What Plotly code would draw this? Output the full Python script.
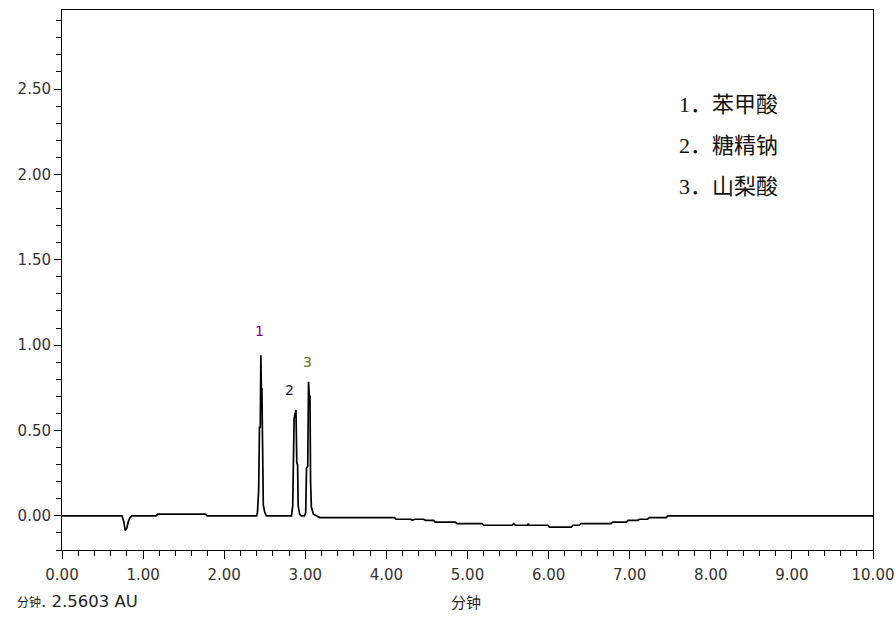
import plotly.graph_objects as go

# Chromatogram data (time in minutes, absorbance in AU)
time_min = [0.00, 0.74, 0.76, 0.78, 0.80, 0.82, 0.84, 0.86, 1.16, 1.18, 1.77, 1.79,
            2.40, 2.41, 2.425, 2.435, 2.445, 2.452, 2.458, 2.465, 2.47, 2.478, 2.482, 2.50, 2.52,
            2.83, 2.845, 2.855, 2.862, 2.875, 2.885, 2.895, 2.905, 2.912, 2.93, 2.95,
            2.99, 3.005, 3.015, 3.03, 3.04, 3.05, 3.058, 3.065, 3.075, 3.10, 3.15, 3.18,
            4.10, 4.12, 4.30, 4.32, 4.35, 4.46, 4.48, 4.58, 4.60, 4.85, 4.87, 5.18, 5.20,
            5.55, 5.57, 5.59, 5.74, 5.75, 5.76, 5.99, 6.01, 6.28, 6.30, 6.38, 6.40,
            6.77, 6.79, 6.96, 6.98, 7.10, 7.12, 7.22, 7.24, 7.45, 7.47, 10.00]
absorbance = [0.00, 0.00, -0.03, -0.086, -0.07, -0.03, -0.01, 0.00, 0.00, 0.01, 0.01, 0.00,
              0.00, 0.02, 0.15, 0.52, 0.52, 0.94, 0.75, 0.745, 0.23, 0.23, 0.064, 0.02, 0.00,
              0.00, 0.06, 0.30, 0.57, 0.60, 0.62, 0.31, 0.30, 0.06, 0.01, 0.00,
              0.00, 0.02, 0.28, 0.29, 0.785, 0.70, 0.70, 0.20, 0.05, 0.01, 0.00, -0.01,
              -0.01, -0.02, -0.02, -0.026, -0.02, -0.02, -0.026, -0.026, -0.037, -0.037, -0.045, -0.045, -0.055,
              -0.055, -0.045, -0.055, -0.055, -0.045, -0.055, -0.055, -0.066, -0.066, -0.055, -0.055, -0.045,
              -0.045, -0.037, -0.037, -0.026, -0.026, -0.02, -0.02, -0.01, -0.01, 0.00, 0.00]

peak_labels = ["1", "2", "3"]
peak_label_x = [2.43, 2.80, 3.03]
peak_label_y = [1.08, 0.74, 0.90]
peak_label_colors = ["#800080", "#1a1a40", "#6b6b2a"]

legend_lines = ["1．苯甲酸", "2．糖精钠", "3．山梨酸"]
legend_y = [2.41, 2.17, 1.93]

x_ticks = [0, 1, 2, 3, 4, 5, 6, 7, 8, 9, 10]
y_ticks = [0.0, 0.5, 1.0, 1.5, 2.0, 2.5]

fig = go.Figure()
fig.add_trace(go.Scatter(x=time_min, y=absorbance, mode="lines",
                         line=dict(color="black", width=1.7), hoverinfo="skip",
                         showlegend=False))

for lab, lx, ly, col in zip(peak_labels, peak_label_x, peak_label_y, peak_label_colors):
    fig.add_annotation(x=lx, y=ly, text=lab, showarrow=False,
                       font=dict(family="DejaVu Sans", size=14, color=col))

for txt, ly in zip(legend_lines, legend_y):
    fig.add_annotation(x=7.58, y=ly, text=txt, showarrow=False, xanchor="left",
                       font=dict(family="Liberation Serif, Noto Sans CJK SC", size=22, color="#111111"))

fig.add_annotation(xref="paper", yref="paper", x=(466 - 62) / 811, y=-(601 - 550) / 540,
                   text="分钟", showarrow=False, yanchor="middle",
                   font=dict(family="Noto Sans CJK SC", size=15, color="#222222"))
fig.add_annotation(xref="paper", yref="paper", x=-(62 - 15) / 811, y=-(601 - 550) / 540,
                   text="分钟", showarrow=False, xanchor="left", yanchor="middle",
                   font=dict(family="Noto Sans CJK SC", size=12, color="#222222"))
fig.add_annotation(xref="paper", yref="paper", x=-(62 - 39) / 811, y=-(601 - 550) / 540,
                   text=". 2.5603 AU", showarrow=False, xanchor="left", yanchor="middle",
                   font=dict(family="DejaVu Sans", size=16.5, color="#222222"))

axis_font = dict(family="DejaVu Sans", size=15, color="#333333")
fig.update_xaxes(range=[0, 10], tickvals=x_ticks, tickformat=".2f", ticks="outside",
                 ticklen=8, tickwidth=1, tickcolor="black", showgrid=False, zeroline=False,
                 showline=True, linecolor="black", linewidth=1, mirror=True,
                 tickfont=axis_font, ticklabelstandoff=3, automargin=False,
                 minor=dict(dtick=0.2, tick0=0, ticks="outside", ticklen=5, tickcolor="black"))
fig.update_yaxes(range=[-0.2, 2.963], tickvals=y_ticks, tickformat=".2f", ticks="outside",
                 ticklen=7, tickwidth=1, tickcolor="black", showgrid=False, zeroline=False,
                 showline=True, linecolor="black", linewidth=1, mirror=True,
                 tickfont=axis_font, automargin=False,
                 minor=dict(dtick=0.1, tick0=0, ticks="outside", ticklen=5, tickcolor="black"))

fig.update_layout(width=895, height=625, paper_bgcolor="white", plot_bgcolor="white",
                  margin=dict(l=62, r=22, t=10, b=75), showlegend=False)

fig.write_html("out.html", config={"displayModeBar": False},
               post_script="document.body.style.margin='0px';")
